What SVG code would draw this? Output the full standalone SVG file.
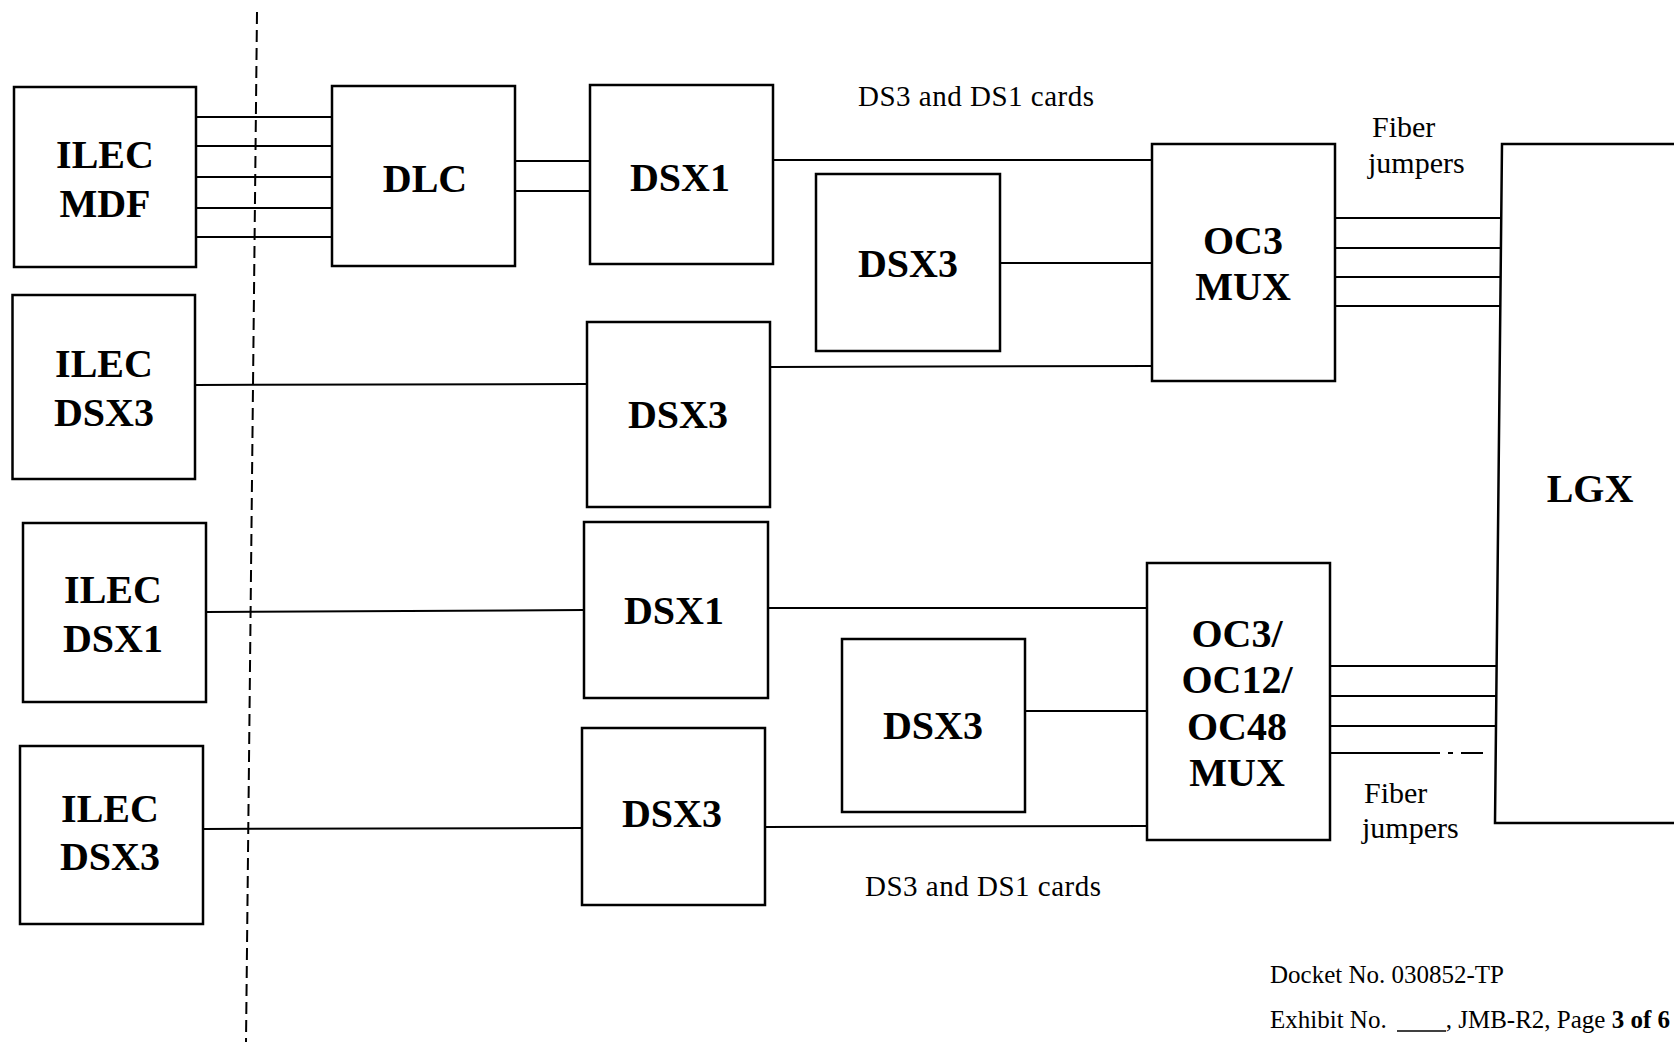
<svg xmlns="http://www.w3.org/2000/svg" width="1674" height="1042" viewBox="0 0 1674 1042">
<style>
.box{fill:#fff;stroke:#000;stroke-width:2.5}
.ln{stroke:#000;stroke-width:2;fill:none}
.lbl{font-family:"Liberation Serif","Times New Roman",serif;font-weight:bold;font-size:40px;text-anchor:middle;fill:#000}
.note{font-family:"Liberation Serif","Times New Roman",serif;font-size:29px;letter-spacing:0.5px;fill:#000}
.fib{font-family:"Liberation Serif","Times New Roman",serif;font-size:30px;fill:#000}
.foot{font-family:"Liberation Serif","Times New Roman",serif;font-size:25px;fill:#000}
</style>
<rect width="1674" height="1042" fill="#fff"/>
<line class="ln" x1="257" y1="12" x2="246" y2="1042" stroke-dasharray="12 6"/>
<g id="connectors">
<line class="ln" x1="196" y1="117" x2="332" y2="117"/>
<line class="ln" x1="196" y1="146" x2="332" y2="146"/>
<line class="ln" x1="196" y1="177" x2="332" y2="177"/>
<line class="ln" x1="196" y1="208" x2="332" y2="208"/>
<line class="ln" x1="196" y1="237" x2="332" y2="237"/>
<line class="ln" x1="515" y1="161" x2="590" y2="161"/>
<line class="ln" x1="515" y1="191" x2="590" y2="191"/>
<line class="ln" x1="773" y1="160" x2="1152" y2="160"/>
<line class="ln" x1="1000" y1="263" x2="1152" y2="263"/>
<line class="ln" x1="195" y1="385" x2="587" y2="384"/>
<line class="ln" x1="770" y1="367" x2="1152" y2="366"/>
<line class="ln" x1="1335" y1="218" x2="1501" y2="218"/>
<line class="ln" x1="1335" y1="248" x2="1501" y2="248"/>
<line class="ln" x1="1335" y1="277" x2="1501" y2="277"/>
<line class="ln" x1="1335" y1="306" x2="1501" y2="306"/>
<line class="ln" x1="206" y1="612" x2="584" y2="610"/>
<line class="ln" x1="768" y1="608" x2="1147" y2="608"/>
<line class="ln" x1="1025" y1="711" x2="1147" y2="711"/>
<line class="ln" x1="203" y1="829" x2="582" y2="828"/>
<line class="ln" x1="765" y1="827" x2="1147" y2="826"/>
<line class="ln" x1="1330" y1="666" x2="1496" y2="666"/>
<line class="ln" x1="1330" y1="696" x2="1496" y2="696"/>
<line class="ln" x1="1330" y1="726" x2="1496" y2="726"/>
<path class="ln" d="M1330,753 H1440 M1448,753 H1453 M1461,753 H1483"/>
</g>
<g id="ilec-mdf"><rect class="box" x="14" y="87" width="182" height="180"/><text class="lbl" x="105" y="168">ILEC</text><text class="lbl" x="105" y="217">MDF</text></g>
<g id="dlc"><rect class="box" x="332" y="86" width="183" height="180"/><text class="lbl" x="425" y="192">DLC</text></g>
<g id="dsx1-top"><rect class="box" x="590" y="85" width="183" height="179"/><text class="lbl" x="680" y="191">DSX1</text></g>
<g id="dsx3-top-small"><rect class="box" x="816" y="174" width="184" height="177"/><text class="lbl" x="908" y="277">DSX3</text></g>
<g id="ilec-dsx3-top"><rect class="box" x="12.5" y="295" width="182.5" height="184"/><text class="lbl" x="104" y="377">ILEC</text><text class="lbl" x="104" y="426">DSX3</text></g>
<g id="dsx3-mid"><rect class="box" x="587" y="322" width="183" height="185"/><text class="lbl" x="678" y="428">DSX3</text></g>
<g id="oc3-mux"><rect class="box" x="1152" y="144" width="183" height="237"/><text class="lbl" x="1243" y="254">OC3</text><text class="lbl" x="1243" y="300">MUX</text></g>
<g id="lgx"><path class="box" d="M1700,144 H1502 L1495,823 H1700"/><text class="lbl" x="1590" y="502">LGX</text></g>
<g id="ilec-dsx1"><rect class="box" x="23" y="523" width="183" height="179"/><text class="lbl" x="113" y="603">ILEC</text><text class="lbl" x="113" y="652">DSX1</text></g>
<g id="dsx1-low"><rect class="box" x="584" y="522" width="184" height="176"/><text class="lbl" x="674" y="624">DSX1</text></g>
<g id="dsx3-low-small"><rect class="box" x="842" y="639" width="183" height="173"/><text class="lbl" x="933" y="739">DSX3</text></g>
<g id="ilec-dsx3-low"><rect class="box" x="20" y="746" width="183" height="178"/><text class="lbl" x="110" y="822">ILEC</text><text class="lbl" x="110" y="870">DSX3</text></g>
<g id="dsx3-low"><rect class="box" x="582" y="728" width="183" height="177"/><text class="lbl" x="672" y="827">DSX3</text></g>
<g id="oc-mux-low"><rect class="box" x="1147" y="563" width="183" height="277"/><text class="lbl" x="1237" y="647">OC3/</text><text class="lbl" x="1237" y="693">OC12/</text><text class="lbl" x="1237" y="740">OC48</text><text class="lbl" x="1237" y="786">MUX</text></g>
<text class="note" x="858" y="106">DS3 and DS1 cards</text>
<text class="note" x="865" y="896">DS3 and DS1 cards</text>
<text class="fib" x="1372" y="137">Fiber</text>
<text class="fib" x="1368" y="173">jumpers</text>
<text class="fib" x="1364" y="803">Fiber</text>
<text class="fib" x="1362" y="838">jumpers</text>
<text class="foot" x="1270" y="983">Docket No. 030852-TP</text>
<text class="foot" x="1270" y="1028">Exhibit No.</text>
<line x1="1397" y1="1031" x2="1446" y2="1031" stroke="#000" stroke-width="1.5"/>
<text class="foot" x="1670" y="1028" text-anchor="end">, JMB-R2, Page <tspan font-weight="bold">3 of 6</tspan></text>
</svg>
